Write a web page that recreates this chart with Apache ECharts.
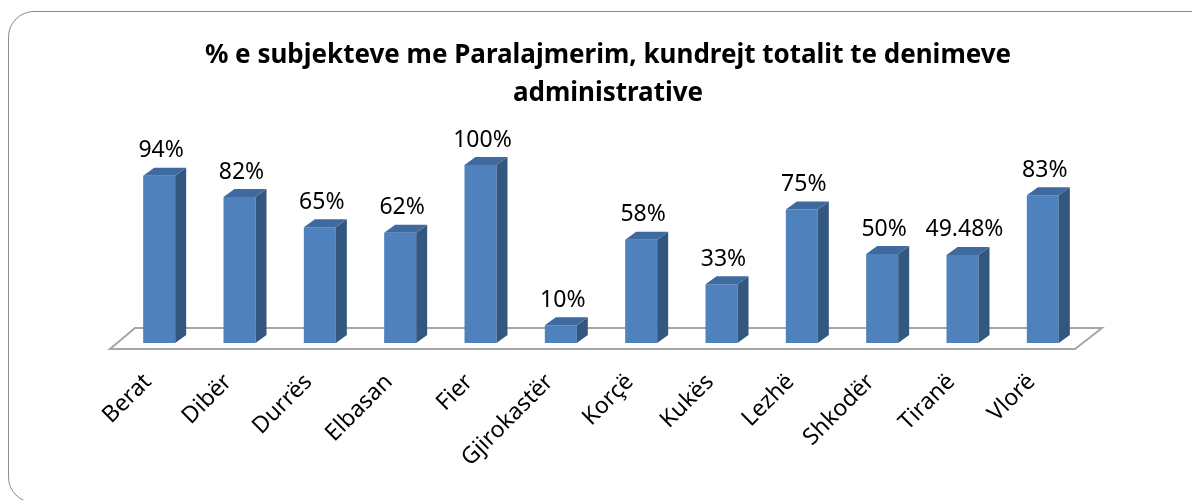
<!DOCTYPE html>
<html>
<head>
<meta charset="utf-8">
<script src="https://cdn.jsdelivr.net/npm/echarts@6/dist/echarts.min.js"></script>
<style>
  html, body { margin: 0; padding: 0; background: #fff; }
  #box {
    position: absolute; left: 8px; top: 11px; width: 1210px; height: 492px;
    border: 1.5px solid #8c8c8c; border-radius: 26px; box-sizing: border-box;
  }
  #chart { position: absolute; left: 0; top: 0; width: 1192px; height: 500px; }
</style>
</head>
<body>
<div id="box"></div>
<div id="chart"></div>
<script>
// qarqet
let categories = ['Berat', 'Dibër', 'Durrës', 'Elbasan', 'Fier', 'Gjirokastër', 'Korçë', 'Kukës', 'Lezhë', 'Shkodër', 'Tiranë', 'Vlorë']
// % e subjekteve me paralajmerim
let values = [94, 82, 65, 62, 100, 10, 58, 33, 75, 50, 49.48, 83]

const FONT = 'Noto Sans'
const BAR_W = 32
const DX = 11, DY = 8

function renderFloor(params, api) {
  let cs = params.coordSys
  let x0 = cs.x, x1 = cs.x + cs.width, y = cs.y + cs.height
  return {
    type: 'polygon',
    shape: { points: [[x0 - 9, y + 6], [x1 - 8, y + 6], [x1 + 19, y - 15], [x0 + 16, y - 15]] },
    style: { fill: '#fff', stroke: '#a6a6a6', lineWidth: 2 }
  }
}

function renderBar(params, api) {
  let top = api.coord([api.value(0), api.value(1)])
  let bot = api.coord([api.value(0), 0])
  let l = top[0] - BAR_W / 2, r = top[0] + BAR_W / 2
  let t = top[1], b = bot[1]
  let v = api.value(1)
  return {
    type: 'group',
    children: [
      { type: 'rect', shape: { x: l, y: t, width: BAR_W, height: b - t }, style: { fill: '#4f81bd' } },
      { type: 'polygon', shape: { points: [[r, t], [r + DX, t - DY], [r + DX, b - DY], [r, b]] }, style: { fill: '#34577f' } },
      { type: 'polygon', shape: { points: [[l, t], [l + DX, t - DY], [r + DX, t - DY], [r, t]] }, style: { fill: '#3f6aa0' } },
      {
        type: 'text',
        style: {
          x: top[0] + 2, y: t - DY - 17, text: v + '%', fill: '#000',
          font: '23px "' + FONT + '"', textAlign: 'center', textVerticalAlign: 'middle'
        }
      }
    ]
  }
}

let chart = echarts.init(document.getElementById('chart'))
chart.setOption({
  animation: false,
  title: {
    text: '% e subjekteve me Paralajmerim, kundrejt totalit te denimeve\nadministrative',
    left: 603, top: 32, textAlign: 'center',
    textStyle: { fontFamily: FONT, fontWeight: 'bold', fontSize: 26, lineHeight: 38, color: '#000' }
  },
  grid: { left: 119, right: 109, top: 165, bottom: 157 },
  xAxis: {
    type: 'category', data: categories,
    axisLine: { show: false }, axisTick: { show: false },
    axisLabel: { rotate: 45, margin: 24, padding: [0, 16, 0, 0], fontFamily: FONT, fontSize: 23, color: '#000', interval: 0 }
  },
  yAxis: { type: 'value', min: 0, max: 100, show: false },
  series: [
    { type: 'custom', renderItem: renderFloor, data: [[0, 0]], z: 1, silent: true },
    { type: 'custom', renderItem: renderBar, data: values.map((v, i) => [i, v]), z: 2 }
  ]
})
</script>
</body>
</html>
